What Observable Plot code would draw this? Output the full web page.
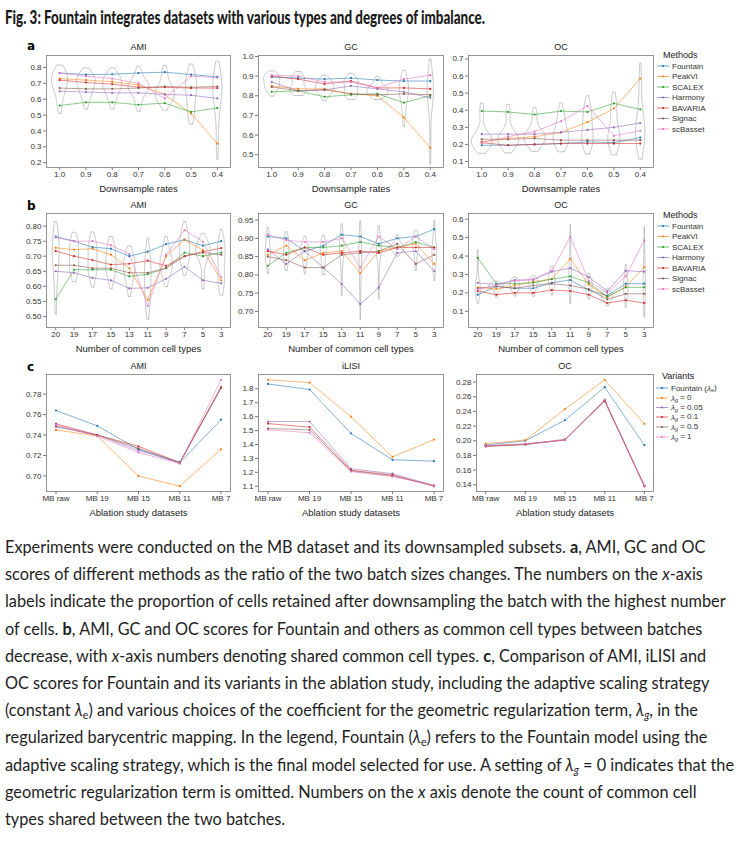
<!DOCTYPE html>
<html><head><meta charset="utf-8">
<script src="https://cdn.jsdelivr.net/npm/d3@7"></script>
<script src="https://cdn.jsdelivr.net/npm/@observablehq/plot@0.6"></script>
<style>
html,body{margin:0;padding:0;background:#fff;}
body{width:739px;height:850px;position:relative;overflow:hidden;font-family:"Liberation Sans",Arial,sans-serif;}
.panel{position:absolute;}
#title{position:absolute;left:5px;top:5px;font-weight:900;font-size:19px;font-family:"Lato","Liberation Sans",sans-serif;white-space:nowrap;transform-origin:0 0;color:#1a1a1a;}
#caption{position:absolute;left:5px;top:534px;font-family:"Lato","Open Sans",sans-serif;font-size:16.5px;line-height:27.2px;color:#1e1e1e;transform-origin:0 0;white-space:nowrap;}
#caption div{white-space:nowrap;height:27.2px;}
#caption sub{font-size:0.65em;vertical-align:-0.25em;line-height:0;}
#overlay{position:absolute;left:0;top:0;pointer-events:none;}
</style></head>
<body>
<div id="title">Fig. 3: Fountain integrates datasets with various types and degrees of imbalance.</div>
<div id="caption">
<div class="cl">Experiments were conducted on the MB dataset and its downsampled subsets. <b>a</b>, AMI, GC and OC</div>
<div class="cl">scores of different methods as the ratio of the two batch sizes changes. The numbers on the <i>x</i>-axis</div>
<div class="cl">labels indicate the proportion of cells retained after downsampling the batch with the highest number</div>
<div class="cl">of cells. <b>b</b>, AMI, GC and OC scores for Fountain and others as common cell types between batches</div>
<div class="cl">decrease, with <i>x</i>-axis numbers denoting shared common cell types. <b>c</b>, Comparison of AMI, iLISI and</div>
<div class="cl">OC scores for Fountain and its variants in the ablation study, including the adaptive scaling strategy</div>
<div class="cl">(constant <i>λ</i><sub>e</sub>) and various choices of the coefficient for the geometric regularization term, <i>λ</i><sub><i>g</i></sub>, in the</div>
<div class="cl">regularized barycentric mapping. In the legend, Fountain (<i>λ</i><sub>e</sub>) refers to the Fountain model using the</div>
<div class="cl">adaptive scaling strategy, which is the final model selected for use. A setting of <i>λ</i><sub><i>g</i></sub> = 0 indicates that the</div>
<div class="cl">geometric regularization term is omitted. Numbers on the <i>x</i> axis denote the count of common cell</div>
<div>types shared between the two batches.</div>
</div>
<script>
// ---------- DATA ----------
const methods = ["Fountain","PeakVI","SCALEX","Harmony","BAVARIA","Signac","scBasset"];
const methodColors = ["#1f77b4","#ff7f0e","#2ca02c","#9467bd","#d62728","#8c564b","#e377c2"];
const variants = ["Fountain (λe)","λg = 0","λg = 0.05","λg = 0.1","λg = 0.5","λg = 1"];
const variantColors = ["#1f77b4","#ff7f0e","#9467bd","#d62728","#8c564b","#e377c2"];

const rateLabels = ["1.0","0.9","0.8","0.7","0.6","0.5","0.4"];
const cellTypeLabels = ["20","19","17","15","13","11","9","7","5","3"];
const ablationLabels = ["MB raw","MB 19","MB 15","MB 11","MB 7"];

// row a: downsample rates (one row per method, in the order of `methods`)
const rateAMI = [
  [0.765,0.755,0.757,0.765,0.770,0.755,0.740],
  [0.730,0.720,0.710,0.690,0.630,0.510,0.320],
  [0.560,0.580,0.580,0.565,0.575,0.520,0.545],
  [0.650,0.645,0.640,0.640,0.630,0.625,0.605],
  [0.720,0.705,0.695,0.675,0.675,0.670,0.670],
  [0.670,0.665,0.665,0.670,0.680,0.675,0.680],
  [0.765,0.745,0.730,0.700,0.605,0.745,0.735]];
const rateGC = [
  [0.895,0.890,0.885,0.890,0.880,0.875,0.875],
  [0.850,0.835,0.835,0.810,0.800,0.690,0.535],
  [0.820,0.825,0.795,0.805,0.810,0.765,0.800],
  [0.870,0.825,0.830,0.850,0.835,0.820,0.790],
  [0.900,0.885,0.860,0.875,0.840,0.840,0.835],
  [0.845,0.825,0.830,0.810,0.805,0.810,0.805],
  [0.905,0.900,0.870,0.870,0.840,0.885,0.905]];
const rateOC = [
  [0.195,0.195,0.200,0.205,0.215,0.210,0.240],
  [0.215,0.235,0.245,0.270,0.330,0.410,0.585],
  [0.395,0.390,0.375,0.395,0.390,0.440,0.405],
  [0.260,0.260,0.260,0.270,0.285,0.300,0.325],
  [0.210,0.195,0.200,0.205,0.205,0.205,0.205],
  [0.230,0.230,0.235,0.225,0.225,0.225,0.225],
  [0.210,0.245,0.275,0.335,0.425,0.250,0.280]];

// row b: number of common cell types
const cellAMI = [
  [0.765,0.750,0.730,0.725,0.700,0.715,0.740,0.755,0.735,0.750],
  [0.728,0.722,0.725,0.705,0.660,0.555,0.700,0.755,0.720,0.620],
  [0.557,0.655,0.655,0.655,0.633,0.640,0.660,0.712,0.700,0.712],
  [0.650,0.645,0.628,0.620,0.593,0.595,0.625,0.665,0.620,0.610],
  [0.717,0.700,0.687,0.672,0.675,0.685,0.668,0.700,0.715,0.727],
  [0.670,0.670,0.660,0.660,0.645,0.645,0.660,0.700,0.712,0.705],
  [0.762,0.750,0.750,0.737,0.707,0.535,0.705,0.787,0.748,0.630]];
const cellGC = [
  [0.905,0.900,0.865,0.880,0.910,0.905,0.885,0.900,0.905,0.925],
  [0.855,0.880,0.840,0.860,0.865,0.805,0.865,0.875,0.885,0.830],
  [0.825,0.860,0.875,0.875,0.880,0.890,0.880,0.875,0.890,0.875],
  [0.870,0.830,0.865,0.820,0.775,0.720,0.765,0.860,0.865,0.810],
  [0.865,0.855,0.875,0.855,0.860,0.865,0.860,0.875,0.875,0.875],
  [0.850,0.840,0.820,0.820,0.855,0.860,0.865,0.885,0.830,0.855],
  [0.910,0.895,0.890,0.890,0.900,0.820,0.905,0.870,0.905,0.870]];
const cellOC = [
  [0.190,0.235,0.225,0.225,0.255,0.270,0.215,0.185,0.250,0.250],
  [0.230,0.220,0.240,0.260,0.275,0.385,0.245,0.175,0.235,0.340],
  [0.390,0.250,0.250,0.255,0.275,0.290,0.255,0.180,0.230,0.230],
  [0.255,0.245,0.270,0.270,0.315,0.335,0.285,0.210,0.320,0.315],
  [0.210,0.190,0.200,0.200,0.215,0.210,0.190,0.145,0.160,0.145],
  [0.225,0.235,0.225,0.240,0.250,0.240,0.220,0.165,0.195,0.195],
  [0.220,0.240,0.265,0.275,0.320,0.505,0.265,0.200,0.290,0.485]];

// row c: ablation study (one row per variant, in the order of `variants`)
const ablAMI = [
  [0.764,0.749,0.726,0.713,0.755],
  [0.745,0.739,0.700,0.690,0.726],
  [0.749,0.740,0.725,0.713,0.786],
  [0.751,0.740,0.729,0.713,0.787],
  [0.748,0.740,0.727,0.713,0.786],
  [0.750,0.739,0.723,0.712,0.794]];
const ablILISI = [
  [1.835,1.795,1.480,1.290,1.280],
  [1.865,1.845,1.600,1.310,1.435],
  [1.565,1.565,1.225,1.190,1.105],
  [1.550,1.525,1.215,1.180,1.100],
  [1.515,1.505,1.210,1.175,1.105],
  [1.505,1.485,1.205,1.170,1.105]];
const ablOC = [
  [0.194,0.200,0.228,0.273,0.194],
  [0.196,0.201,0.243,0.283,0.223],
  [0.193,0.195,0.201,0.255,0.138],
  [0.192,0.195,0.201,0.254,0.138],
  [0.193,0.195,0.202,0.255,0.139],
  [0.193,0.196,0.201,0.256,0.138]];

// tick values
const ticksAAMI = [0.2,0.3,0.4,0.5,0.6,0.7,0.8];
const ticksAGC = [0.5,0.6,0.7,0.8,0.9,1.0];
const ticksAOC = [0.1,0.2,0.3,0.4,0.5,0.6,0.7];
const ticksBAMI = [0.50,0.55,0.60,0.65,0.70,0.75,0.80];
const ticksBGC = [0.70,0.75,0.80,0.85,0.90,0.95];
const ticksBOC = [0.1,0.2,0.3,0.4,0.5,0.6];
const ticksCAMI = [0.70,0.72,0.74,0.76,0.78];
const ticksCILISI = [1.1,1.2,1.3,1.4,1.5,1.6,1.7,1.8];
const ticksCOC = [0.14,0.16,0.18,0.20,0.22,0.24,0.26,0.28];

// ---------- DRAWING ----------
const FONT = '"Liberation Sans", Arial, sans-serif';

function violinRows(series, n) {
  const dens = []; let gmax = 0;
  for (let i = 0; i < n; i++) {
    const vals = series.map(s => s[i]);
    const sd = d3.deviation(vals);
    const bw = sd * Math.pow(vals.length, -0.2);
    const lo = d3.min(vals) - 1 * bw, hi = d3.max(vals) + 1 * bw;
    const grid = d3.range(100).map(k => lo + (hi - lo) * k / 99);
    const d = grid.map(y => d3.sum(vals, v => Math.exp(-0.5 * ((y - v) / bw) ** 2)) / (vals.length * bw * Math.sqrt(2 * Math.PI)));
    gmax = Math.max(gmax, d3.max(d));
    dens.push({i, grid, d});
  }
  const rows = [];
  for (const {i, grid, d} of dens) {
    const pts = [];
    grid.forEach((y, k) => pts.push({x: i + 0.4 * d[k] / gmax, y, c: i}));
    for (let k = grid.length - 1; k >= 0; k--) pts.push({x: i - 0.4 * d[k] / gmax, y: grid[k], c: i});
    pts.push(pts[0]);
    rows.push(...pts);
  }
  return rows;
}

function panel(o) {
  const n = o.xLabels.length;
  const rows = [];
  o.series.forEach((vals, k) => vals.forEach((v, i) => rows.push({i, v, m: o.names[k]})));
  const marks = [];
  if (o.violin) marks.push(Plot.line(violinRows(o.series, n), {x: "x", y: "y", z: "c", stroke: "#a0a0a0", strokeWidth: 0.6}));
  marks.push(Plot.line(rows, {x: "i", y: "v", z: "m", stroke: "m", strokeWidth: 0.7, strokeOpacity: 0.8}));
  marks.push(Plot.dot(rows, {x: "i", y: "v", fill: "m", r: 1.1}));
  marks.push(Plot.frame({stroke: "#7a7a7a", strokeWidth: 0.8}));
  marks.push(Plot.axisX({ticks: d3.range(n), tickFormat: i => o.xLabels[i], tickSize: 3, tickPadding: 1, fontSize: 8, label: null, stroke: "#7a7a7a", fill: "#333"}));
  marks.push(Plot.axisY({ticks: o.yTicks, tickFormat: d3.format(o.yFmt), tickSize: 3, tickPadding: 2, fontSize: 8, label: null, stroke: "#7a7a7a", fill: "#333"}));
  marks.push(Plot.text([o.title], {text: d => d, frameAnchor: "top", lineAnchor: "middle", dy: o.titleDy, fontSize: 9, fill: "#222"}));
  marks.push(Plot.text([o.xTitle], {text: d => d, frameAnchor: "bottom", lineAnchor: "middle", dy: o.xDy, fontSize: 9.5, fill: "#222"}));
  const svg = Plot.plot({
    width: o.w, height: o.h,
    marginLeft: o.mL, marginRight: o.mR, marginTop: o.mT, marginBottom: o.mB,
    style: {fontFamily: FONT, fontSize: "8px", color: "#333", background: "transparent"},
    x: {domain: o.xDomain, axis: null},
    y: {domain: o.yDomain, axis: null},
    color: {domain: o.names, range: o.colors},
    marks
  });
  const div = document.createElement("div");
  div.className = "panel";
  div.style.left = o.left + "px"; div.style.top = o.top + "px";
  div.appendChild(svg);
  document.body.appendChild(div);
}

const rowA = {top: 36, h: 162, mT: 19, mB: 31, titleDy: -8, xDy: 21};
const rowB = {top: 196, h: 162, mT: 17, mB: 31, titleDy: -8, xDy: 21};
const rowC = {top: 357, h: 163, mT: 17, mB: 29, titleDy: -8, xDy: 21};
const col1 = {left: 0, w: 240, mL: 46, mR: 10};
const col2 = {left: 228, w: 222, mL: 30, mR: 7};
const col3 = {left: 444, w: 295, mL: 24, mR: 86};
const col3c = {left: 444, w: 295, mL: 32, mR: 86};

const mA = {names: methods, colors: methodColors, violin: true, xLabels: rateLabels, xDomain: [-0.5, 6.5], xTitle: "Downsample rates"};
panel({...rowA, ...col1, ...mA, title: "AMI", series: rateAMI, yDomain: [0.17, 0.875], yTicks: ticksAAMI, yFmt: ".1f"});
panel({...rowA, ...col2, ...mA, title: "GC", series: rateGC, yDomain: [0.435, 1.005], yTicks: ticksAGC, yFmt: ".1f"});
panel({...rowA, ...col3, ...mA, title: "OC", series: rateOC, yDomain: [0.065, 0.72], yTicks: ticksAOC, yFmt: ".1f"});

const mB = {names: methods, colors: methodColors, violin: true, xLabels: cellTypeLabels, xDomain: [-0.5, 9.5], xTitle: "Number of common cell types"};
panel({...rowB, ...col1, ...mB, title: "AMI", series: cellAMI, yDomain: [0.463, 0.842], yTicks: ticksBAMI, yFmt: ".2f"});
panel({...rowB, ...col2, ...mB, title: "GC", series: cellGC, yDomain: [0.656, 0.968], yTicks: ticksBGC, yFmt: ".2f"});
panel({...rowB, ...col3, ...mB, title: "OC", series: cellOC, yDomain: [0.012, 0.631], yTicks: ticksBOC, yFmt: ".1f"});

const mC = {names: variants, colors: variantColors, violin: false, xLabels: ablationLabels, xDomain: [-0.23, 4.23], xTitle: "Ablation study datasets"};
panel({...rowC, ...col1, ...mC, title: "AMI", series: ablAMI, yDomain: [0.6848, 0.7992], yTicks: ticksCAMI, yFmt: ".2f"});
panel({...rowC, ...col2, ...mC, title: "iLISI", series: ablILISI, yDomain: [1.062, 1.903], yTicks: ticksCILISI, yFmt: ".1f"});
panel({...rowC, ...col3c, ...mC, title: "OC", series: ablOC, yDomain: [0.1308, 0.2903], yTicks: ticksCOC, yFmt: ".2f"});

// ---------- overlay: panel letters and legends ----------
const ov = d3.select("body").append("svg").attr("id", "overlay").attr("width", 739).attr("height", 850)
  .style("font-family", FONT);
[["a", 46], ["b", 206], ["c", 367]].forEach(([t, y]) =>
  ov.append("text").attr("x", 27).attr("y", y).attr("dy", "0.35em").attr("font-weight", 900)
    .attr("font-size", 12).attr("font-family", '"DejaVu Sans", sans-serif').text(t));

function legend(title, names, colors, x, yTitle, ys, fmt) {
  const g = ov.append("g");
  g.append("text").attr("x", x + 6).attr("y", yTitle).attr("dy", "0.35em").attr("font-size", 9).attr("fill", "#222").text(title);
  names.forEach((nm, k) => {
    const y = ys[k];
    g.append("line").attr("x1", x).attr("x2", x + 12).attr("y1", y).attr("y2", y).attr("stroke", colors[k]).attr("stroke-width", 0.8).attr("stroke-opacity", 0.85);
    g.append("circle").attr("cx", x + 6).attr("cy", y).attr("r", 1.1).attr("fill", colors[k]);
    const t = g.append("text").attr("x", x + 15).attr("y", y).attr("dy", "0.35em").attr("font-size", 8).attr("fill", "#333");
    fmt(t, nm);
  });
}
const plain = (t, nm) => t.text(nm);
const greek = (t, nm) => {
  const m = nm.match(/^(.*?)λ([eg])(.*)$/);
  if (!m) { t.text(nm); return; }
  if (m[1]) t.append("tspan").text(m[1]);
  t.append("tspan").attr("font-style", "italic").text("λ");
  t.append("tspan").attr("font-size", 5.5).attr("dy", "0.3em").attr("font-style", m[2] === "g" ? "italic" : "normal").text(m[2]);
  t.append("tspan").attr("dy", "-0.3em").text(m[3]);
};
legend("Methods", methods, methodColors, 657, 55, [66, 76.5, 87, 97.5, 108, 118.5, 129], plain);
legend("Methods", methods, methodColors, 657, 215, [226, 236.5, 247, 257.5, 268, 278.5, 289], plain);
legend("Variants", variants, variantColors, 656, 376, [388, 398, 407.5, 417, 427, 437], greek);

// ---------- fit title and caption widths ----------
const title = document.getElementById("title");
const tw = title.getBoundingClientRect().width;
title.style.transform = `scaleX(${480 / tw})`;
const cap = document.getElementById("caption");
let wmax = 0;
document.querySelectorAll("#caption .cl").forEach(el => {
  const r = document.createRange(); r.selectNodeContents(el);
  wmax = Math.max(wmax, r.getBoundingClientRect().width);
});
cap.style.transform = `scaleX(${729 / wmax})`;
</script>
</body></html>
